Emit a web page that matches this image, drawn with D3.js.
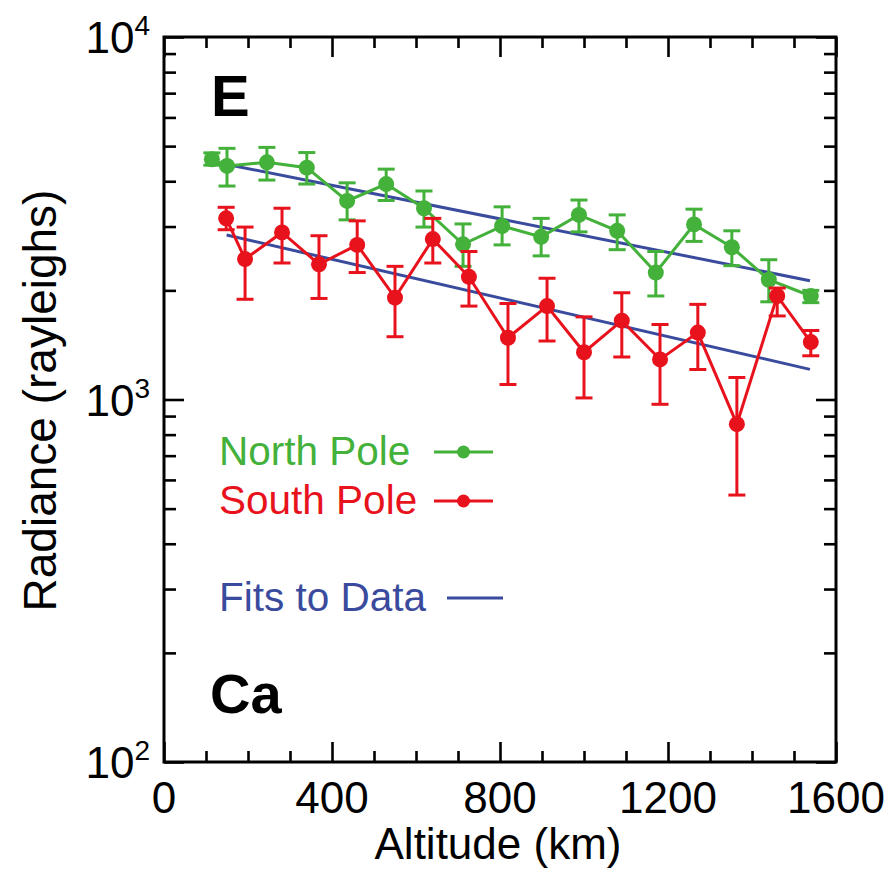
<!DOCTYPE html>
<html>
<head>
<meta charset="utf-8">
<script src="https://cdn.jsdelivr.net/npm/d3@7"></script>
<style>
  html, body { margin: 0; padding: 0; background: #fff; }
  svg { display: block; font-family: "Liberation Sans", Arial, Helvetica, sans-serif; }
</style>
</head>
<body>
<svg id="chart" width="889" height="871"></svg>
<script>
// Ca emission radiance versus altitude, north and south polar profiles
const northAlt = [114, 150, 245, 340, 436, 529, 619, 712, 805, 898, 988, 1079, 1171, 1262, 1352, 1440, 1540];
const northVal = [4600, 4410, 4510, 4360, 3530, 3930, 3370, 2680, 3010, 2810, 3230, 2920, 2240, 3040, 2630, 2140, 1930];
const northHi  = [4790, 4930, 4960, 4800, 3960, 4320, 3760, 3050, 3400, 3160, 3550, 3230, 2560, 3350, 2920, 2430, 2000];
const northLo  = [4430, 3880, 4030, 3930, 3130, 3540, 2990, 2330, 2670, 2490, 2900, 2590, 1930, 2730, 2340, 1860, 1850];

const southAlt = [148, 193, 281, 369, 460, 550, 640, 726, 819, 912, 1000, 1090, 1181, 1271, 1364, 1460, 1540];
const southVal = [3160, 2440, 2890, 2360, 2670, 1910, 2770, 2180, 1480, 1810, 1350, 1650, 1290, 1530, 855, 1930, 1440];
const southHi  = [3390, 2990, 3370, 2830, 3110, 2330, 3160, 2560, 1840, 2160, 1690, 1970, 1610, 1830, 1150, 2030, 1550];
const southLo  = [2940, 1890, 2380, 1900, 2240, 1490, 2380, 1810, 1100, 1450, 1010, 1310, 970, 1210, 545, 1700, 1320];

// exponential fits (straight on log axis): end points [altitude, radiance]
const northFit = [[117, 4530], [1538, 2127]];
const southFit = [[149, 2843], [1538, 1211]];

const xTickLabels = [0, 400, 800, 1200, 1600];
const yDecades = [100, 1000, 10000];
const yExponents = ["2", "3", "4"];

const GREEN = "#43b13a", RED = "#e8121c", BLUE = "#3a4b9e";

const svg = d3.select("#chart");
const L = 164, R = 836, T = 37, B = 762;

const x = d3.scaleLinear().domain([0, 1600]).range([L, R]);
const y = d3.scaleLog().domain([100, 10000]).range([B, T]);

// minor ticks
const xMinor = d3.range(0, 1601, 100).filter(v => v % 400 !== 0);
const yMinor = [];
[100, 1000].forEach(d => { for (let k = 2; k <= 9; k++) yMinor.push(d * k); });

function styleAxis(g) {
  g.select(".domain").remove();
  g.selectAll("line").attr("stroke", "#000").attr("stroke-width", 2.6);
  g.selectAll("text").remove();
}

// bottom / top ticks (inward)
[[d3.axisBottom, B], [d3.axisTop, T]].forEach(([ax, pos]) => {
  svg.append("g").attr("transform", `translate(0,${pos})`)
    .call(ax(x).tickValues(xTickLabels).tickSize(-20)).call(styleAxis);
  svg.append("g").attr("transform", `translate(0,${pos})`)
    .call(ax(x).tickValues(xMinor).tickSize(-11)).call(styleAxis);
});
// left / right ticks (inward)
[[d3.axisLeft, L], [d3.axisRight, R]].forEach(([ax, pos]) => {
  svg.append("g").attr("transform", `translate(${pos},0)`)
    .call(ax(y).tickValues(yDecades).tickSize(-20)).call(styleAxis);
  svg.append("g").attr("transform", `translate(${pos},0)`)
    .call(ax(y).tickValues(yMinor).tickSize(-12)).call(styleAxis);
});

// frame
svg.append("rect").attr("x", L).attr("y", T).attr("width", R - L).attr("height", B - T)
  .attr("fill", "none").attr("stroke", "#000").attr("stroke-width", 3);

// x tick labels
svg.append("g").selectAll("text").data(xTickLabels).join("text")
  .attr("x", d => x(d)).attr("y", B + 51)
  .attr("text-anchor", "middle").attr("font-size", 44).attr("fill", "#000")
  .text(d => d);

// y tick labels with superscript exponent
const yl = svg.append("g").selectAll("text").data(yDecades).join("text")
  .attr("x", 150).attr("y", d => y(d) + 16)
  .attr("text-anchor", "end").attr("font-size", 44).attr("fill", "#000");
yl.append("tspan").text("10");
yl.append("tspan").attr("font-size", 28).attr("dy", -18).text((d, i) => yExponents[i]);

// axis titles
svg.append("text").attr("x", (L + R) / 2 - 2).attr("y", 859)
  .attr("text-anchor", "middle").attr("font-size", 44).text("Altitude (km)");
svg.append("text").attr("transform", `translate(56,${(T + B) / 2 + 1}) rotate(-90)`)
  .attr("text-anchor", "middle").attr("font-size", 46).text("Radiance (rayleighs)");

// panel labels
svg.append("text").attr("x", 211).attr("y", 116).attr("font-size", 58)
  .attr("font-weight", "bold").text("E");
svg.append("text").attr("x", 210).attr("y", 713).attr("font-size", 56)
  .attr("font-weight", "bold").text("Ca");

// fit lines
const line = d3.line().x(d => x(d[0])).y(d => y(d[1]));
[northFit, southFit].forEach(f => {
  svg.append("path").attr("d", line(f)).attr("fill", "none")
    .attr("stroke", BLUE).attr("stroke-width", 3);
});

function drawSeries(alt, val, lo, hi, color) {
  const pts = alt.map((a, i) => ({ a, v: val[i], lo: lo[i], hi: hi[i] }));
  const g = svg.append("g");
  g.append("path").attr("d", d3.line().x(d => x(d.a)).y(d => y(d.v))(pts))
    .attr("fill", "none").attr("stroke", color).attr("stroke-width", 3);
  const eb = g.selectAll("g.eb").data(pts).join("g").attr("stroke", color).attr("stroke-width", 3);
  eb.append("line").attr("x1", d => x(d.a)).attr("x2", d => x(d.a))
    .attr("y1", d => y(d.lo)).attr("y2", d => y(d.hi));
  eb.append("line").attr("x1", d => x(d.a) - 8.5).attr("x2", d => x(d.a) + 8.5)
    .attr("y1", d => y(d.lo)).attr("y2", d => y(d.lo));
  eb.append("line").attr("x1", d => x(d.a) - 8.5).attr("x2", d => x(d.a) + 8.5)
    .attr("y1", d => y(d.hi)).attr("y2", d => y(d.hi));
  g.selectAll("circle").data(pts).join("circle")
    .attr("cx", d => x(d.a)).attr("cy", d => y(d.v)).attr("r", 8).attr("fill", color);
}
drawSeries(northAlt, northVal, northLo, northHi, GREEN);
drawSeries(southAlt, southVal, southLo, southHi, RED);

// legend
const legend = [
  { label: "North Pole", color: GREEN, marker: true, y: 465, x1: 434, x2: 493 },
  { label: "South Pole", color: RED, marker: true, y: 514, x1: 434, x2: 493 },
  { label: "Fits to Data", color: BLUE, marker: false, y: 611, x1: 447, x2: 503 }
];
const lg = svg.append("g").selectAll("g").data(legend).join("g");
lg.append("text").attr("x", 219).attr("y", d => d.y).attr("font-size", 40.5)
  .attr("fill", d => d.color).text(d => d.label);
lg.append("line").attr("x1", d => d.x1).attr("x2", d => d.x2)
  .attr("y1", d => d.y - 13).attr("y2", d => d.y - 13)
  .attr("stroke", d => d.color).attr("stroke-width", 3);
lg.filter(d => d.marker).append("circle")
  .attr("cx", d => (d.x1 + d.x2) / 2).attr("cy", d => d.y - 13).attr("r", 6.5)
  .attr("fill", d => d.color);
</script>
</body>
</html>
